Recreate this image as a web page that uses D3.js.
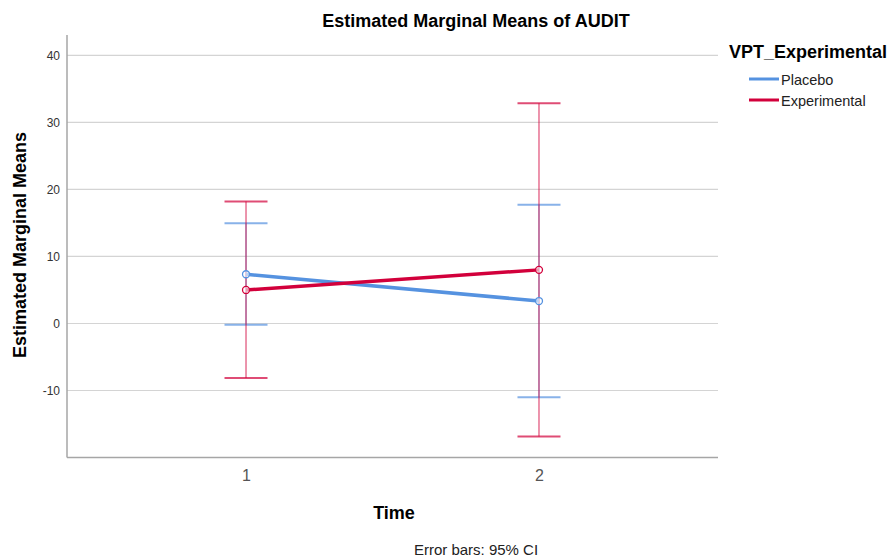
<!DOCTYPE html>
<html>
<head>
<meta charset="utf-8">
<script src="https://cdn.jsdelivr.net/npm/d3@7"></script>
<style>
  body { margin: 0; background: #fff; }
  svg { font-family: "Liberation Sans", Arial, sans-serif; }
</style>
</head>
<body>
<div id="chart"></div>
<script>
// data
const times = ["1", "2"];
const groups = ["Placebo", "Experimental"];
const placeboMeans = [7.35, 3.35];
const placeboLower = [-0.2, -11.0];
const placeboUpper = [14.95, 17.7];
const experimentalMeans = [5.0, 8.0];
const experimentalLower = [-8.15, -16.85];
const experimentalUpper = [18.2, 32.85];
const yTicks = [-10, 0, 10, 20, 30, 40];

const colors = { Placebo: "#5592e0", Experimental: "#d2003b" };

const series = [
  { name: "Placebo", means: placeboMeans, lo: placeboLower, hi: placeboUpper },
  { name: "Experimental", means: experimentalMeans, lo: experimentalLower, hi: experimentalUpper }
];

const width = 895, height = 558;
const plot = { left: 67, right: 718, top: 35, bottom: 457.5 };

const svg = d3.select("#chart").append("svg")
  .attr("width", width).attr("height", height);

const x = d3.scalePoint().domain(times).range([plot.left, plot.right]).padding(0.611);
const y = d3.scaleLinear().domain([-20, 43.05]).range([plot.bottom, plot.top]);

// gridlines
svg.append("g").selectAll("line")
  .data(yTicks)
  .join("line")
  .attr("x1", plot.left).attr("x2", plot.right)
  .attr("y1", d => y(d)).attr("y2", d => y(d))
  .attr("stroke", "#d4d4d4").attr("stroke-width", 1.2);

// axes
const yAxis = svg.append("g")
  .attr("transform", `translate(${plot.left},0)`)
  .call(d3.axisLeft(y).tickValues(yTicks).tickFormat(d => String(d)).tickSize(0).tickPadding(7));
yAxis.select(".domain").attr("stroke", "#a6a6a6").attr("stroke-width", 1.5)
  .attr("d", `M0,${plot.top}V${plot.bottom}`);
yAxis.selectAll("text").attr("font-size", 12).attr("fill", "#333");

const xAxis = svg.append("g")
  .attr("transform", `translate(0,${plot.bottom})`)
  .call(d3.axisBottom(x).tickSize(0).tickPadding(12));
xAxis.select(".domain").attr("stroke", "#a6a6a6").attr("stroke-width", 1.5)
  .attr("d", `M${plot.left},0H${plot.right}`);
xAxis.selectAll("text").attr("font-size", 16).attr("fill", "#555");

// error bars (drawn first, lines on top)
const capHalf = 21.5;
series.forEach(s => {
  const g = svg.append("g").attr("stroke", colors[s.name]).attr("stroke-opacity", 0.7).attr("fill", "none");
  times.forEach((t, i) => {
    const cx = x(t);
    g.append("line").attr("x1", cx).attr("x2", cx).attr("y1", y(s.lo[i])).attr("y2", y(s.hi[i])).attr("stroke-width", 1.2);
    g.append("line").attr("x1", cx - capHalf).attr("x2", cx + capHalf).attr("y1", y(s.lo[i])).attr("y2", y(s.lo[i])).attr("stroke-width", 2);
    g.append("line").attr("x1", cx - capHalf).attr("x2", cx + capHalf).attr("y1", y(s.hi[i])).attr("y2", y(s.hi[i])).attr("stroke-width", 2);
  });
});

// mean lines
const line = d3.line().x((d, i) => x(times[i])).y(d => y(d));
series.forEach(s => {
  svg.append("path")
    .datum(s.means)
    .attr("d", line)
    .attr("fill", "none")
    .attr("stroke", colors[s.name])
    .attr("stroke-width", 3.5);
  svg.append("g").selectAll("circle")
    .data(s.means)
    .join("circle")
    .attr("cx", (d, i) => x(times[i]))
    .attr("cy", d => y(d))
    .attr("r", 3.5)
    .attr("fill", "#fff")
    .attr("fill-opacity", 0.6)
    .attr("stroke", colors[s.name])
    .attr("stroke-width", 1.3);
});

// titles
svg.append("text").attr("x", 476).attr("y", 27).attr("text-anchor", "middle")
  .attr("font-size", 18).attr("font-weight", "bold").attr("fill", "#000")
  .text("Estimated Marginal Means of AUDIT");

svg.append("text")
  .attr("transform", "translate(25.5,245) rotate(-90)")
  .attr("text-anchor", "middle")
  .attr("font-size", 18).attr("font-weight", "bold").attr("fill", "#000")
  .text("Estimated Marginal Means");

svg.append("text").attr("x", 394).attr("y", 519).attr("text-anchor", "middle")
  .attr("font-size", 18).attr("font-weight", "bold").attr("fill", "#000")
  .text("Time");

svg.append("text").attr("x", 476).attr("y", 555).attr("text-anchor", "middle")
  .attr("font-size", 15).attr("fill", "#222")
  .text("Error bars: 95% CI");

// legend
const legend = svg.append("g");
legend.append("text").attr("x", 729).attr("y", 58)
  .attr("font-size", 18).attr("font-weight", "bold").attr("fill", "#000")
  .text("VPT_Experimental");
groups.forEach((name, i) => {
  const ly = 79 + i * 21;
  legend.append("line").attr("x1", 749).attr("x2", 779).attr("y1", ly).attr("y2", ly)
    .attr("stroke", colors[name]).attr("stroke-width", 3);
  legend.append("text").attr("x", 781).attr("y", ly + 6)
    .attr("font-size", 14.5).attr("fill", "#222").text(name);
});
</script>
</body>
</html>
